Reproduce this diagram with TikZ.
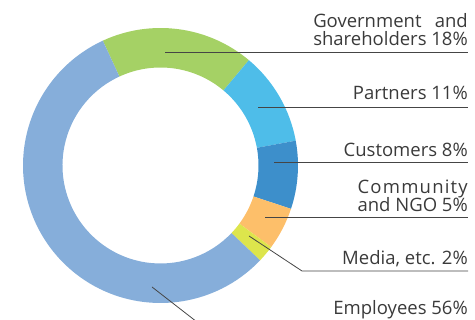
\documentclass[tikz,border=0pt]{standalone}
\usepackage{fontspec}
\setmainfont{Open Sans}

\definecolor{govgreen}{HTML}{A5D165}
\definecolor{partblue}{HTML}{4EBDE9}
\definecolor{custblue}{HTML}{3D8FCB}
\definecolor{commorange}{HTML}{FDBF6A}
\definecolor{medyellow}{HTML}{DDE54C}
\definecolor{emplblue}{HTML}{86AEDA}
\definecolor{lbltext}{HTML}{3A3A3A}
\definecolor{lblline}{HTML}{454545}

\newlength\lblwd
\newcommand\spreadline[2]{\settowidth\lblwd{#1}\makebox[\lblwd][s]{#2}}

\tikzset{
  lbl/.style={anchor=south east, inner sep=0pt, text depth=0pt, align=right,
    text=lbltext, font=\fontsize{18.5}{18.5}\selectfont},
  leader/.style={draw=lblline, line width=0.8pt}
}

\begin{document}
\begin{tikzpicture}[x=1pt,y=1pt]
\useasboundingbox (0,0) rectangle (475,320);

% anell: centre (160.5,154.5), radis 137.5 i 98
\begin{scope}[shift={(160.5,154.5)}]
\foreach \a/\b/\c in {114.8/50/govgreen, 50/10.4/partblue, 10.4/-18.4/custblue,
    -18.4/-36.4/commorange, -36.4/-43.6/medyellow, -43.6/-245.2/emplblue}
    \fill[\c] (\a:137.5) arc[start angle=\a, end angle=\b, radius=137.5]
        -- (\b:98) arc[start angle=\b, end angle=\a, radius=98] -- cycle;
\end{scope}

% etiquetes
\node[lbl] (gov) at (468,274) {\spreadline{shareholders 18\%}{Government and}\\shareholders 18\%};
\node[lbl] (part) at (468,220) {Partners 11\%};
\node[lbl] (cust) at (468,163) {Customers 8\%};
\node[lbl] (comm) at (468,108) {\spreadline{and NGO 5\%}{C\hfill o\hfill m\hfill m\hfill u\hfill n\hfill i\hfill t\hfill y}\\and NGO 5\%};
\node[lbl] (media) at (468,55) {Media, etc. 2\%};
\node[lbl] (empl) at (468,5) {Employees 56\%};

% punts dins l'anell
\coordinate (govpt) at (165,268);
\coordinate (partpt) at (258,213);
\coordinate (custpt) at (274,158);
\coordinate (commpt) at (265,103);
\coordinate (mediapt) at (249,84);
\coordinate (mediabend) at (302,49);
\coordinate (emplpt) at (152,33);
\coordinate (emplbend) at (197,-2);

\draw[leader] (govpt) -- (govpt -| gov.east);
\draw[leader] (partpt) -- (partpt -| part.east);
\draw[leader] (custpt) -- (custpt -| cust.east);
\draw[leader] (commpt) -- (commpt -| comm.east);
\draw[leader] (mediapt) -- (mediabend) -- (mediabend -| media.east);
\draw[leader] (emplpt) -- (emplbend) -- (emplbend -| empl.east);

\end{tikzpicture}
\end{document}
